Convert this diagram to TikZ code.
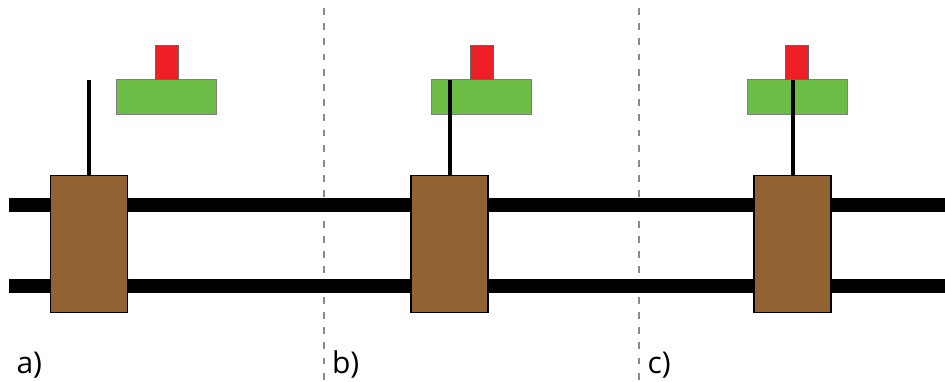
\documentclass[tikz,border=0pt]{standalone}
\usepackage{fontspec}
\setmainfont{Open Sans}
\definecolor{brownbox}{HTML}{926232}
\definecolor{greenbox}{HTML}{6BBD45}
\definecolor{redbox}{HTML}{EE1F26}
\definecolor{divider}{HTML}{8A8A8A}
\tikzset{
  unitbox/.style={rectangle,inner sep=0pt,outer sep=0pt},
  car/.style={unitbox,draw=black,line width=1.3pt,fill=brownbox,minimum width=77pt,minimum height=137pt},
  plate/.style={unitbox,draw=black!50,line width=1pt,fill=greenbox,minimum width=100pt,minimum height=34.5pt},
  tab/.style={unitbox,draw=black!60,line width=1pt,fill=redbox,minimum width=23.3pt,minimum height=34.5pt},
  pole/.style={line width=4pt,black},
  rail/.style={line width=14pt,black},
  sep/.style={line width=2.4pt,divider,dash pattern=on 6.7pt off 8.5pt},
  tag/.style={inner sep=0pt,outer sep=0pt,anchor=base west,font=\fontsize{30}{30}\selectfont}
}
\begin{document}
\begin{tikzpicture}[x=1pt,y=-1pt]
\useasboundingbox (0,0) rectangle (945,381);
% dividers
\coordinate (s1t) at (324,8); \coordinate (s1b) at (324,381);
\coordinate (s2t) at (639,8); \coordinate (s2b) at (639,381);
\draw[sep] (s1t) -- (s1b);
\draw[sep] (s2t) -- (s2b);
% rails
\coordinate (r1l) at (9,204.7); \coordinate (r1r) at (945,204.7);
\coordinate (r2l) at (9,285.8); \coordinate (r2r) at (945,285.8);
\draw[rail] (r1l) -- (r1r);
\draw[rail] (r2l) -- (r2r);
% a
\node[plate] (ga) at (166.5,96.8) {};
\node[tab] (ra) at (167,62.5) {};
\coordinate (pa) at (89.2,80);
\node[car] (ca) at (89.3,243.7) {};
\draw[pole] (ca.north -| pa) -- (pa);
\node[tag] (la) at (16.5,373) {a)};
% b
\node[plate] (gb) at (481.8,96.8) {};
\node[tab] (rb) at (482,62.5) {};
\coordinate (pb) at (449.7,80);
\node[car] (cb) at (449.5,243.7) {};
\draw[pole] (cb.north -| pb) -- (pb);
\node[tag] (lb) at (332,373) {b)};
% c
\node[plate] (gc) at (797,96.8) {};
\node[tab] (rc) at (797,62.5) {};
\coordinate (pc) at (792.7,80);
\node[car] (cc) at (792.5,243.7) {};
\draw[pole] (cc.north -| pc) -- (pc);
\node[tag] (lc) at (647.5,373) {c)};
\end{tikzpicture}
\end{document}
